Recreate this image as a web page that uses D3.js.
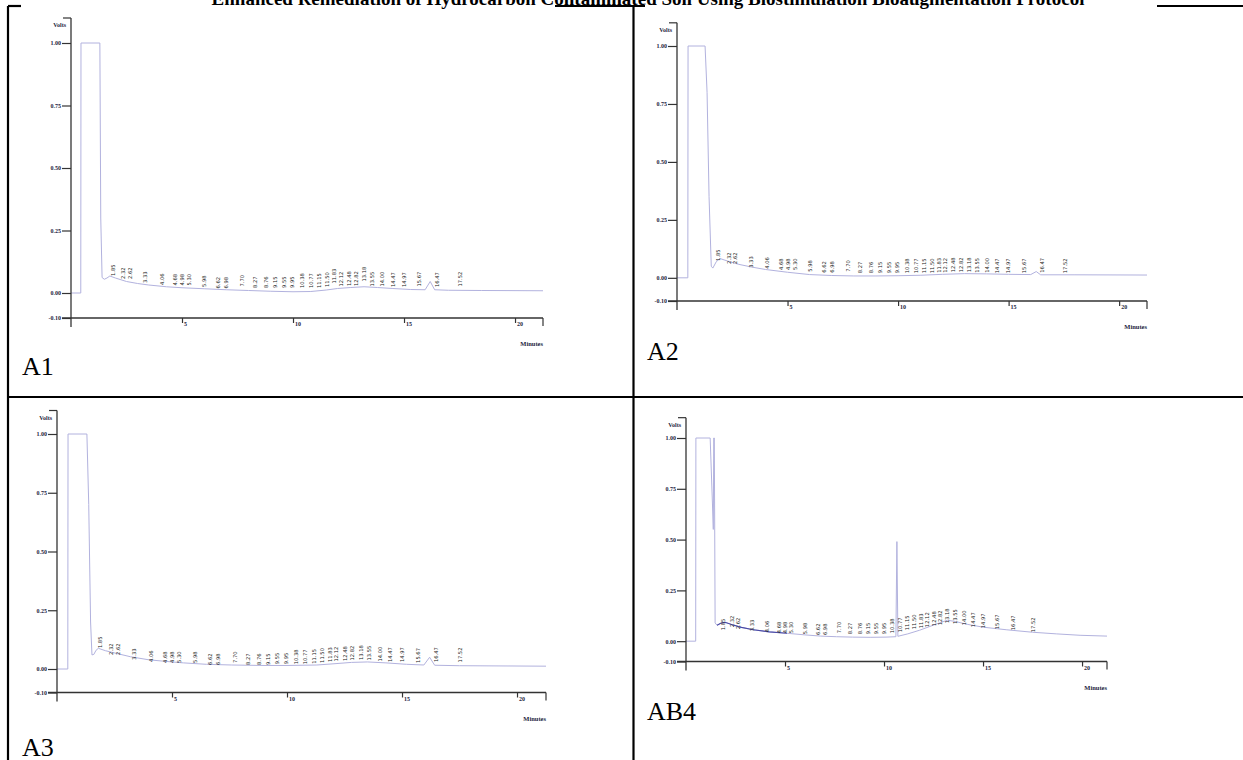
<!DOCTYPE html>
<html>
<head>
<meta charset="utf-8">
<script src="https://cdn.jsdelivr.net/npm/d3@7"></script>
<style>
  body { margin: 0; background: #fff; }
  svg { display: block; }
</style>
</head>
<body>
<div id="chart"></div>
<script>
var W = 1243, H = 760;

var titleText = "Enhanced Remediation of Hydrocarbon Contaminated Soil Using Biostimulation Bioaugmentation Protocol";
var panelNames = ["A1", "A2", "A3", "AB4"];
var yTicks = [1.00, 0.75, 0.50, 0.25, 0.00, -0.10];
var xTicks = [5, 10, 15, 20];
var xMax = 21.26; // minutes at the end of the x axis

// retention times of the labelled peaks (minutes), same method for all runs
var peakTimes = [1.85, 2.32, 2.62, 3.33, 4.06, 4.68, 4.98, 5.30, 5.98, 6.62, 6.98,
  7.70, 8.27, 8.76, 9.15, 9.55, 9.95, 10.38, 10.77, 11.15, 11.50, 11.83, 12.12,
  12.48, 12.82, 13.18, 13.55, 14.00, 14.47, 14.97, 15.67, 16.47, 17.52];

// detector traces [minutes, volts]
var a1Trace = [[0,0],[0.44,0],[0.45,1.0],[1.30,1.0],[1.34,0.3],[1.40,0.062],[1.50,0.055],
  [1.62,0.06],[1.75,0.068],[2.0,0.06],[2.5,0.046],[3.0,0.038],[3.5,0.032],[4.3,0.025],
  [5.0,0.021],[6.0,0.017],[7.0,0.013],[8.0,0.01],[9.0,0.007],[10.0,0.005],[10.8,0.006],
  [11.5,0.012],[12.0,0.018],[12.6,0.022],[13.2,0.025],[13.8,0.022],[14.5,0.018],[15.3,0.014],
  [15.95,0.013],[16.18,0.046],[16.38,0.013],[17.0,0.011],[18.5,0.01],[21.26,0.009]];
var a2Trace = [[0,0],[0.49,0],[0.50,1.0],[1.27,1.0],[1.36,0.8],[1.45,0.35],[1.55,0.05],
  [1.62,0.042],[1.78,0.07],[1.95,0.083],[2.3,0.072],[2.8,0.058],[3.4,0.046],[4.0,0.036],
  [5.0,0.024],[6.0,0.014],[7.0,0.01],[8.0,0.008],[9.0,0.008],[10.0,0.009],[11.0,0.011],
  [12.0,0.015],[13.0,0.018],[14.0,0.017],[15.0,0.015],[16.0,0.014],[16.25,0.027],[16.45,0.013],
  [18.0,0.013],[21.26,0.012]];
var a3Trace = [[0,0],[0.47,0],[0.48,1.0],[1.30,1.0],[1.38,0.7],[1.46,0.2],[1.52,0.06],
  [1.60,0.062],[1.70,0.08],[1.80,0.088],[2.1,0.078],[2.6,0.066],[3.2,0.052],[4.0,0.039],
  [5.0,0.03],[5.5,0.026],[6.5,0.02],[7.6,0.017],[9.0,0.015],[10.0,0.015],[11.3,0.017],
  [12.0,0.022],[12.8,0.028],[13.5,0.03],[14.3,0.026],[15.2,0.02],[15.95,0.017],[16.2,0.05],
  [16.42,0.016],[17.5,0.014],[21.26,0.012]];
var ab4Trace = [[0,0],[0.49,0],[0.50,1.0],[1.22,1.0],[1.38,0.55],[1.40,1.0],[1.43,1.0],
  [1.47,0.09],[1.57,0.078],[1.75,0.088],[1.97,0.093],[2.3,0.082],[2.8,0.068],[3.4,0.056],
  [4.2,0.046],[5.1,0.039],[6.0,0.031],[6.8,0.025],[7.6,0.022],[8.4,0.02],[9.3,0.019],
  [10.1,0.02],[10.6,0.022],[10.65,0.49],[10.7,0.024],[11.2,0.036],[11.8,0.054],[12.3,0.072],
  [12.8,0.09],[13.2,0.103],[13.6,0.097],[14.2,0.083],[15.0,0.069],[16.2,0.056],[17.5,0.044],
  [18.7,0.036],[19.9,0.029],[21.26,0.025]];
var ab4DarkRange = [1.5, 5.2]; // part of the AB4 trace drawn darker

// height (volts) of the foot of each peak label
var a1Labels = [0.068,0.056,0.056,0.04,0.032,0.03,0.03,0.03,0.024,0.018,0.018,0.026,0.02,
  0.02,0.02,0.02,0.02,0.02,0.02,0.02,0.024,0.038,0.026,0.028,0.028,0.046,0.026,0.026,0.024,
  0.024,0.026,0.024,0.026];
var a2Labels = [0.073,0.06,0.06,0.043,0.039,0.034,0.034,0.034,0.026,0.022,0.022,0.026,0.02,
  0.02,0.02,0.02,0.02,0.02,0.02,0.02,0.02,0.022,0.022,0.024,0.024,0.024,0.022,0.022,0.02,
  0.02,0.02,0.022,0.02];
var a3Labels = [0.089,0.06,0.06,0.038,0.03,0.026,0.026,0.026,0.026,0.017,0.017,0.026,0.017,
  0.017,0.017,0.02,0.02,0.02,0.02,0.022,0.026,0.03,0.032,0.034,0.036,0.038,0.036,0.032,0.03,
  0.03,0.026,0.03,0.028];
var ab4Labels = [0.054,0.069,0.059,0.049,0.044,0.039,0.039,0.039,0.034,0.03,0.03,0.039,0.034,
  0.034,0.034,0.034,0.034,0.039,0.044,0.054,0.059,0.064,0.069,0.074,0.078,0.088,0.084,0.078,
  0.069,0.064,0.059,0.054,0.044];

var svg = d3.select("#chart").append("svg")
  .attr("width", W)
  .attr("height", H);

// table grid (top rule only shows where the header does not cover it)
var grid = [[8, 6, 21, 6], [555, 6, 645, 6], [1157, 6, 1243, 6],
  [8, 6, 8, 760], [633.5, 6, 633.5, 760], [8, 397, 1243, 397]];
svg.selectAll("line.grid").data(grid).enter().append("line")
  .attr("class", "grid")
  .attr("x1", function(d) { return d[0]; })
  .attr("y1", function(d) { return d[1]; })
  .attr("x2", function(d) { return d[2]; })
  .attr("y2", function(d) { return d[3]; })
  .style("stroke", "#000")
  .style("stroke-width", 2.2);

// header title (cut by the top of the page)
svg.append("text")
  .attr("x", 648)
  .attr("y", 4.5)
  .attr("text-anchor", "middle")
  .style("font-family", "'Liberation Serif', serif")
  .style("font-weight", "bold")
  .style("font-size", "19px")
  .text(titleText);

var panels = [
  { name: panelNames[0], trace: a1Trace, labels: a1Labels, xr: [71, 543],  yr: [318, 43],    tag: [22, 375] },
  { name: panelNames[1], trace: a2Trace, labels: a2Labels, xr: [677, 1147], yr: [301, 46],    tag: [647, 360] },
  { name: panelNames[2], trace: a3Trace, labels: a3Labels, xr: [57, 546],   yr: [692.5, 434], tag: [22, 756] },
  { name: panelNames[3], trace: ab4Trace, labels: ab4Labels, xr: [686, 1107], yr: [661.5, 438], tag: [647, 720], dark: ab4DarkRange }
];

var axisColor = "#333", textColor = "#1d2540", traceColor = "#b2b2de";

panels.forEach(function(p) {
  var x = d3.scaleLinear().domain([0, xMax]).range(p.xr);
  var y = d3.scaleLinear().domain([-0.10, 1.00]).range(p.yr);
  var g = svg.append("g");
  var x0 = x(0), yTop = y(1.1), yBase = y(-0.1);

  // trace
  var line = d3.line()
    .x(function(d) { return x(d[0]); })
    .y(function(d) { return y(d[1]); });
  g.append("path")
    .attr("d", line(p.trace))
    .style("fill", "none")
    .style("stroke", traceColor)
    .style("stroke-width", 1);
  if (p.dark) {
    g.append("path")
      .attr("d", line(p.trace.filter(function(d) { return d[0] >= p.dark[0] && d[0] <= p.dark[1]; })))
      .style("fill", "none")
      .style("stroke", "#4b4ba6")
      .style("stroke-width", 1.1);
  }

  // peak labels
  g.selectAll("text.peak").data(peakTimes).enter().append("text")
    .attr("class", "peak")
    .attr("transform", function(d, i) { return "translate(" + (x(d) + 2.5) + "," + y(p.labels[i]) + ") rotate(-90)"; })
    .style("font-family", "'DejaVu Sans', sans-serif")
    .style("font-size", "5.2px")
    .style("fill", "#222")
    .text(function(d) { return d.toFixed(2); });

  // y axis
  var yAxis = g.append("g")
    .attr("transform", "translate(" + x0 + ",0)")
    .call(d3.axisLeft(y).tickValues(yTicks).tickSize(9).tickFormat(function(d) { return d.toFixed(2); }));
  yAxis.select(".domain").remove();
  yAxis.selectAll(".tick line").style("stroke", axisColor).style("stroke-width", 1.2);
  yAxis.selectAll(".tick text")
    .attr("x", -10)
    .style("font-family", "'Liberation Serif', serif")
    .style("font-weight", "bold")
    .style("font-size", "6px")
    .style("fill", textColor);
  g.append("line")
    .attr("x1", x0).attr("x2", x0).attr("y1", yTop).attr("y2", yBase + 9)
    .style("stroke", axisColor).style("stroke-width", 1.3);
  g.append("line")
    .attr("x1", x0 - 8).attr("x2", x0).attr("y1", yTop).attr("y2", yTop)
    .style("stroke", axisColor).style("stroke-width", 1.2);
  g.append("text")
    .attr("x", x0 - 5).attr("y", yTop + 9)
    .attr("text-anchor", "end")
    .style("font-family", "'Liberation Serif', serif")
    .style("font-weight", "bold")
    .style("font-size", "6px")
    .style("fill", textColor)
    .text("Volts");

  // x axis
  var xAxis = g.append("g")
    .attr("transform", "translate(0," + yBase + ")")
    .call(d3.axisBottom(x).tickValues(xTicks).tickSize(5).tickFormat(d3.format("d")));
  xAxis.select(".domain").remove();
  xAxis.selectAll(".tick line").style("stroke", axisColor).style("stroke-width", 1.2);
  xAxis.selectAll(".tick text")
    .attr("x", 1.5).attr("y", 4).attr("dy", "0.71em")
    .attr("text-anchor", "start")
    .style("font-family", "'Liberation Serif', serif")
    .style("font-weight", "bold")
    .style("font-size", "6px")
    .style("fill", textColor);
  g.append("line")
    .attr("x1", x0 - 9).attr("x2", x(xMax)).attr("y1", yBase).attr("y2", yBase)
    .style("stroke", axisColor).style("stroke-width", 1.4);
  g.append("line")
    .attr("x1", x(xMax)).attr("x2", x(xMax)).attr("y1", yBase).attr("y2", yBase + 8)
    .style("stroke", axisColor).style("stroke-width", 1.2);
  g.append("text")
    .attr("x", x(xMax)).attr("y", yBase + 28)
    .attr("text-anchor", "end")
    .style("font-family", "'Liberation Serif', serif")
    .style("font-weight", "bold")
    .style("font-size", "6.5px")
    .style("fill", textColor)
    .text("Minutes");

  // panel tag
  svg.append("text")
    .attr("x", p.tag[0]).attr("y", p.tag[1])
    .style("font-family", "'Liberation Serif', serif")
    .style("font-size", "26px")
    .style("fill", "#000")
    .text(p.name);
});
</script>
</body>
</html>
